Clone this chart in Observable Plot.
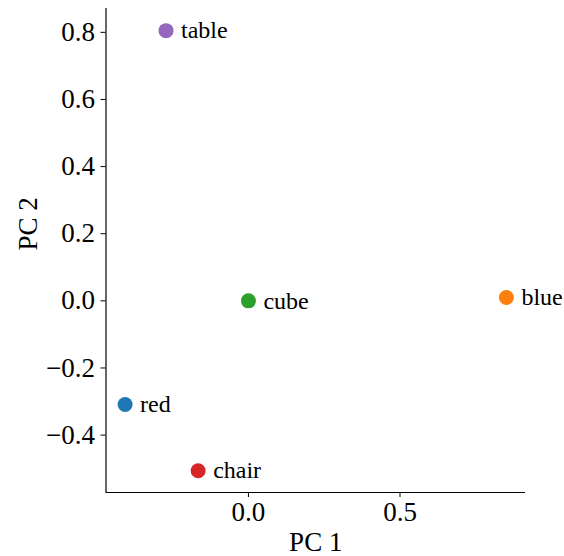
<!DOCTYPE html>
<html>
<head>
<meta charset="utf-8">
<script src="https://cdn.jsdelivr.net/npm/d3@7"></script>
<script src="https://cdn.jsdelivr.net/npm/@observablehq/plot@0.6"></script>
<style>
  html, body { margin: 0; padding: 0; background: #fff; }
  #chart svg { display: block; font-family: "Liberation Serif", "DejaVu Serif", serif !important; }
  #chart svg text { font-family: "Liberation Serif", "DejaVu Serif", serif !important; }
</style>
</head>
<body>
<div id="chart"></div>
<script>
const words = ["red", "blue", "cube", "chair", "table"];
const pc1 = [-0.407, 0.851, 0.0, -0.166, -0.272];
const pc2 = [-0.309, 0.010, 0.0, -0.506, 0.805];
const colors = ["#1f77b4", "#ff7f0e", "#2ca02c", "#d62728", "#9467bd"];
const xTicks = [0.0, 0.5];
const yTicks = [-0.4, -0.2, 0.0, 0.2, 0.4, 0.6, 0.8];
const xDomain = [-0.470, 0.914];
const yDomain = [-0.571, 0.871];

const data = words.map((w, i) => ({word: w, x: pc1[i], y: pc2[i], color: colors[i]}));
const fmt = d3.format(".1f");
const font = "Liberation Serif";

const chart = Plot.plot({
  width: 564,
  height: 556,
  marginLeft: 105.5,
  marginRight: 39,
  marginTop: 8,
  marginBottom: 64,
  style: {background: "#fff", color: "#000"},
  x: {domain: xDomain},
  y: {domain: yDomain},
  marks: [
    Plot.axisX({ticks: xTicks, tickFormat: fmt, tickSize: 5, tickPadding: 4, fontSize: 27, fontFamily: font, label: null, strokeWidth: 1}),
    Plot.axisY({ticks: yTicks, tickFormat: fmt, tickSize: 5, tickPadding: 6, fontSize: 27, fontFamily: font, label: null, strokeWidth: 1}),
    Plot.ruleX([xDomain[0]], {stroke: "#000", strokeWidth: 1.2}),
    Plot.ruleY([yDomain[0]], {stroke: "#000", strokeWidth: 1.2}),
    Plot.dot(data, {x: "x", y: "y", r: 7.5, fill: "color", stroke: "none"}),
    Plot.text(data, {x: "x", y: "y", text: "word", textAnchor: "start", dx: 15, fontSize: 24, fill: "#000", fontFamily: font}),
    Plot.text(["PC 1"], {frameAnchor: "bottom", dy: 58, fontSize: 27, fill: "#000", fontFamily: font}),
    Plot.text(["PC 2"], {frameAnchor: "left", dx: -78, rotate: -90, fontSize: 27, fill: "#000", fontFamily: font})
  ]
});
document.getElementById("chart").appendChild(chart);
</script>
</body>
</html>
